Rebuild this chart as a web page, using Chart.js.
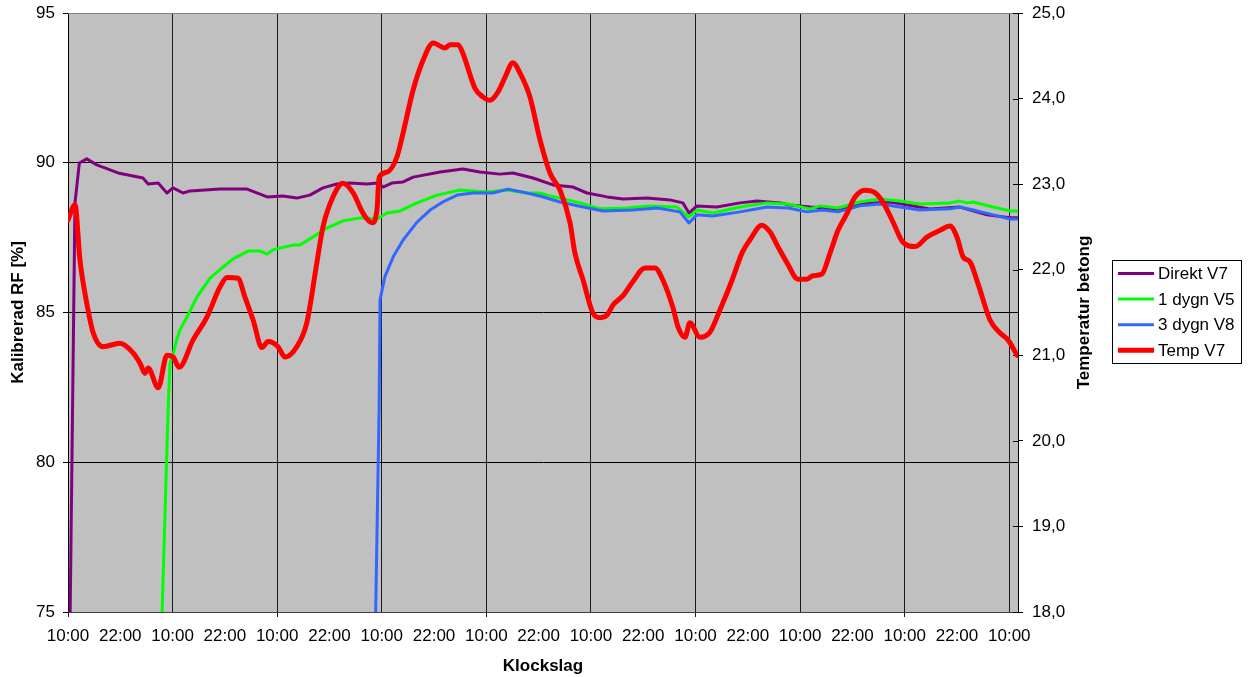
<!DOCTYPE html>
<html>
<head>
<meta charset="utf-8">
<script src="https://cdn.jsdelivr.net/npm/chart.js@4.4.1/dist/chart.umd.min.js"></script>
<style>
  html, body { margin: 0; padding: 0; background: #ffffff; }
  #wrap { width: 1251px; height: 677px; }
</style>
</head>
<body>
<div id="wrap"><canvas id="c" width="1251" height="677"></canvas></div>
<script>
// Time axis: hours since the first 10:00 reading, labelled every 12 h
const tickHours = [0, 12, 24, 36, 48, 60, 72, 84, 96, 108, 120, 132, 144, 156, 168, 180, 192, 204, 216];
const tickLabels = ['10:00', '22:00', '10:00', '22:00', '10:00', '22:00', '10:00', '22:00', '10:00', '22:00',
                    '10:00', '22:00', '10:00', '22:00', '10:00', '22:00', '10:00', '22:00', '10:00'];

// Direkt V7 – calibrated RF [%]
const direktHours = [0.5, 1.6, 2.6, 4.3, 6.6, 11.5, 17.2, 18.4, 20.7, 22.7, 24.1, 26.4, 28.0, 34.9, 41.1, 45.7,
  49.3, 52.5, 55.5, 58.5, 61.7, 64.7, 68.6, 71.1, 72.3, 74.3, 76.9, 79.2, 85.4, 90.6, 94.5, 99.1, 102.1, 106.7,
  111.3, 115.9, 119.1, 123.7, 127.4, 132.9, 138.1, 141.1, 142.5, 144.3, 148.9, 154.2, 158.1, 163.4, 165.7,
  170.3, 173.2, 176.7, 181.7, 188.6, 197.8, 204.7, 210.9, 216.2, 217.8];
const direktRF = [75.0, 88.66, 89.99, 90.13, 89.93, 89.66, 89.49, 89.29, 89.32, 88.99, 89.16, 88.99, 89.06, 89.12,
  89.12, 88.86, 88.89, 88.82, 88.92, 89.16, 89.29, 89.32, 89.29, 89.32, 89.19, 89.32, 89.36, 89.52, 89.69, 89.79,
  89.69, 89.62, 89.66, 89.49, 89.26, 89.19, 88.99, 88.86, 88.79, 88.82, 88.76, 88.66, 88.32, 88.56, 88.52, 88.66,
  88.72, 88.66, 88.59, 88.52, 88.50, 88.45, 88.62, 88.69, 88.46, 88.52, 88.26, 88.16, 88.16];

// 1 dygn V5 – calibrated RF [%]
const dygn1Hours = [21.6, 22.6, 23.0, 23.4, 24.2, 24.9, 25.7, 27.3, 29.6, 32.6, 35.6, 37.9, 41.3, 44.1, 45.7, 47.0,
  51.6, 53.2, 56.2, 59.4, 63.1, 67.0, 70.9, 73.2, 76.2, 80.1, 84.7, 90.0, 96.1, 100.7, 105.3, 108.3, 109.9, 112.9,
  117.5, 122.1, 128.3, 133.5, 139.7, 142.5, 144.3, 148.0, 154.2, 160.4, 165.2, 170.3, 172.6, 176.7, 181.7, 186.3,
  190.9, 195.5, 202.4, 204.7, 206.3, 207.7, 212.3, 216.2, 217.8];
const dygn1RF = [75.0, 79.97, 81.85, 83.3, 83.65, 84.08, 84.42, 84.85, 85.52, 86.15, 86.52, 86.79, 87.05, 87.05,
  86.95, 87.09, 87.25, 87.25, 87.52, 87.82, 88.06, 88.16, 88.12, 88.32, 88.39, 88.66, 88.92, 89.09, 89.02, 89.09,
  88.99, 88.99, 88.92, 88.82, 88.66, 88.46, 88.49, 88.56, 88.52, 88.19, 88.42, 88.32, 88.52, 88.66, 88.62, 88.46,
  88.56, 88.49, 88.69, 88.79, 88.72, 88.62, 88.66, 88.72, 88.66, 88.69, 88.52, 88.39, 88.39];

// 3 dygn V8 – calibrated RF [%]
const dygn3Hours = [70.6, 71.4, 71.6, 72.7, 74.6, 76.9, 80.1, 83.1, 86.0, 89.3, 92.9, 97.5, 101.0, 105.3, 108.3,
  112.9, 118.2, 122.8, 129.6, 135.2, 140.4, 142.5, 144.3, 148.0, 154.2, 160.4, 165.2, 169.6, 173.2, 176.7, 181.7,
  186.3, 190.9, 195.5, 202.4, 204.7, 207.7, 212.3, 216.2, 217.8];
const dygn3RF = [75.0, 81.85, 85.42, 86.19, 86.85, 87.42, 88.02, 88.42, 88.69, 88.92, 88.99, 88.99, 89.12, 88.99,
  88.89, 88.69, 88.52, 88.39, 88.42, 88.49, 88.36, 87.99, 88.26, 88.22, 88.36, 88.52, 88.49, 88.36, 88.42, 88.36,
  88.56, 88.62, 88.52, 88.42, 88.46, 88.52, 88.42, 88.26, 88.12, 88.12];

// Temp V7 – concrete temperature [°C]
const tempHours = [0.0, 1.6, 2.75, 4.3, 5.8, 8.0, 11.9, 14.9, 16.5, 17.7, 18.4, 20.7, 22.7, 24.1, 25.5, 28.7, 31.9,
  34.9, 36.5, 39.0, 40.6, 42.5, 44.5, 45.9, 48.2, 49.8, 52.5, 54.8, 57.1, 58.5, 60.8, 63.1, 65.4, 67.7, 69.8, 70.9,
  71.4, 73.2, 75.5, 76.9, 79.2, 81.5, 83.8, 86.5, 87.7, 89.5, 90.6, 93.4, 95.2, 96.8, 98.7, 100.3, 102.1, 103.7,
  106.0, 108.3, 110.6, 112.9, 115.2, 116.3, 118.2, 120.5, 122.1, 123.7, 125.1, 127.4, 129.6, 132.4, 134.7, 136.5,
  138.8, 140.0, 141.6, 142.7, 145.0, 147.3, 149.6, 152.4, 154.7, 156.5, 159.2, 161.1, 162.9, 165.0, 167.5, 169.6,
  170.9, 173.0, 174.9, 176.7, 178.8, 180.6, 182.9, 185.2, 187.0, 189.3, 191.6, 194.4, 197.1, 200.1, 202.4, 204.0,
  205.4, 207.0, 208.8, 211.6, 213.9, 215.7, 217.8];
const tempC = [22.58, 22.76, 22.11, 21.61, 21.26, 21.10, 21.14, 21.03, 20.91, 20.79, 20.85, 20.62, 21.00, 20.98,
  20.86, 21.18, 21.45, 21.80, 21.91, 21.90, 21.68, 21.41, 21.09, 21.16, 21.10, 20.98, 21.10, 21.38, 22.08, 22.50,
  22.85, 23.01, 22.90, 22.66, 22.55, 22.70, 23.08, 23.14, 23.32, 23.60, 24.10, 24.45, 24.65, 24.59, 24.63, 24.63,
  24.53, 24.12, 24.02, 23.98, 24.08, 24.25, 24.42, 24.30, 24.02, 23.52, 23.13, 22.93, 22.55, 22.20, 21.88, 21.49,
  21.44, 21.47, 21.59, 21.70, 21.86, 22.02, 22.02, 21.88, 21.56, 21.33, 21.21, 21.38, 21.21, 21.27, 21.53, 21.88,
  22.20, 22.35, 22.52, 22.44, 22.27, 22.08, 21.89, 21.89, 21.93, 21.95, 22.20, 22.46, 22.66, 22.85, 22.93, 22.90,
  22.79, 22.56, 22.32, 22.27, 22.38, 22.46, 22.51, 22.38, 22.15, 22.09, 21.84, 21.41, 21.26, 21.18, 21.00];

const pts = (xs, ys) => xs.map((x, i) => ({ x: x, y: ys[i] }));

const FONT = '"Liberation Sans", Arial, Helvetica, sans-serif';
Chart.defaults.font.family = FONT;
Chart.defaults.font.size = 17;
Chart.defaults.color = '#000000';

// Grey plot area and its top edge
const plotBackground = {
  id: 'plotBackground',
  beforeDraw(chart) {
    const { ctx, chartArea: a } = chart;
    ctx.save();
    ctx.fillStyle = '#C0C0C0';
    ctx.fillRect(a.left, a.top, a.right - a.left, a.bottom - a.top);
    ctx.restore();
  },
  beforeDatasetsDraw(chart) {
    const { ctx, chartArea: a } = chart;
    const y2 = chart.scales.y2;
    ctx.save();
    ctx.strokeStyle = '#808080';
    ctx.lineWidth = 1;
    ctx.beginPath();
    ctx.moveTo(a.left, a.top + 0.5);
    ctx.lineTo(a.right, a.top + 0.5);
    ctx.stroke();
    // inner half of the right-axis tick marks
    ctx.strokeStyle = '#000000';
    y2.ticks.forEach(t => {
      const py = Math.round(y2.getPixelForValue(t.value)) + 0.5;
      ctx.beginPath();
      ctx.moveTo(a.right - 5, py);
      ctx.lineTo(a.right, py);
      ctx.stroke();
    });
    ctx.restore();
  }
};

// Right-hand axis title (reads bottom-to-top) and the boxed legend
const sideDecor = {
  id: 'sideDecor',
  afterDraw(chart) {
    const { ctx, chartArea: a } = chart;
    ctx.save();
    ctx.font = 'bold 17px ' + FONT;
    ctx.fillStyle = '#000000';
    ctx.textAlign = 'center';
    ctx.textBaseline = 'middle';
    ctx.translate(1084, (a.top + a.bottom) / 2);
    ctx.rotate(-Math.PI / 2);
    ctx.fillText('Temperatur betong', 0, 0);
    ctx.restore();

    const box = { x: 1112.5, y: 260.5, w: 129, h: 103 };
    ctx.save();
    ctx.fillStyle = '#ffffff';
    ctx.fillRect(box.x, box.y, box.w, box.h);
    ctx.strokeStyle = '#000000';
    ctx.lineWidth = 1;
    ctx.strokeRect(box.x, box.y, box.w, box.h);
    ctx.font = '17px ' + FONT;
    ctx.textAlign = 'left';
    ctx.textBaseline = 'middle';
    chart.data.datasets.forEach((ds, i) => {
      const cy = 273.5 + i * 25.6;
      ctx.strokeStyle = ds.borderColor;
      ctx.lineWidth = ds.borderWidth;
      ctx.lineCap = 'butt';
      ctx.beginPath();
      ctx.moveTo(1118, cy);
      ctx.lineTo(1154, cy);
      ctx.stroke();
      ctx.fillStyle = '#000000';
      ctx.fillText(ds.label, 1158, cy + 1);
    });
    ctx.restore();
  }
};

// Fixed axis sizes so the plot area sits where the tick labels expect it
const fixVertical = w => s => { s.width = w; s.paddingTop = 0; s.paddingBottom = 0; };

new Chart(document.getElementById('c'), {
  type: 'line',
  data: {
    datasets: [
      { label: 'Direkt V7', data: pts(direktHours, direktRF), yAxisID: 'y',
        borderColor: '#800080', borderWidth: 3, order: 4 },
      { label: '1 dygn V5', data: pts(dygn1Hours, dygn1RF), yAxisID: 'y',
        borderColor: '#00FF00', borderWidth: 3, order: 3 },
      { label: '3 dygn V8', data: pts(dygn3Hours, dygn3RF), yAxisID: 'y',
        borderColor: '#3366FF', borderWidth: 3, order: 2 },
      { label: 'Temp V7', data: pts(tempHours, tempC), yAxisID: 'y2',
        borderColor: '#FF0000', borderWidth: 5, order: 1, cubicInterpolationMode: 'monotone' }
    ]
  },
  options: {
    responsive: false,
    animation: false,
    devicePixelRatio: 1,
    layout: { padding: { left: 0, right: 157, top: 13, bottom: 0 } },
    elements: {
      point: { radius: 0, hoverRadius: 0 },
      line: { fill: false, borderJoinStyle: 'round', borderCapStyle: 'round' }
    },
    plugins: { legend: { display: false }, tooltip: { enabled: false } },
    scales: {
      x: {
        type: 'linear',
        min: 0,
        max: 218,
        afterBuildTicks: s => { s.ticks = tickHours.map(v => ({ value: v })); },
        afterFit: s => { s.height = 65; s.paddingLeft = 0; s.paddingRight = 0; },
        ticks: {
          autoSkip: false,
          maxRotation: 0,
          padding: 9,
          callback: v => tickLabels[tickHours.indexOf(v)]
        },
        grid: {
          color: c => (c.tick && c.tick.value % 24 === 0) ? '#1a1a1a' : 'rgba(0,0,0,0)',
          tickColor: c => (c.tick && c.tick.value % 48 === 0) ? '#1a1a1a' : 'rgba(0,0,0,0)',
          tickLength: 5,
          lineWidth: 1
        },
        border: { display: true, color: '#404040', width: 1 },
        title: { display: true, text: 'Klockslag', font: { weight: 'bold', size: 17 }, padding: { top: 0, bottom: 0 } }
      },
      y: {
        position: 'left',
        min: 75,
        max: 95,
        afterFit: fixVertical(68),
        ticks: { stepSize: 5, padding: 8, callback: v => String(v) },
        grid: {
          color: c => (c.tick && c.tick.value === 95) ? '#808080' : '#000000',
          tickColor: '#000000',
          tickLength: 5,
          lineWidth: 1
        },
        border: { display: true, color: '#000000', width: 1 },
        title: { display: true, text: 'Kalibrerad RF [%]', font: { weight: 'bold', size: 17 }, padding: { top: 8, bottom: 0 } }
      },
      y2: {
        position: 'right',
        min: 18,
        max: 25,
        afterFit: fixVertical(76),
        ticks: { stepSize: 1, padding: 9, callback: v => v.toFixed(1).replace('.', ',') },
        grid: { drawOnChartArea: false, tickColor: '#000000', tickLength: 5 },
        border: { display: true, color: '#000000', width: 1 },
        title: { display: false }
      }
    }
  },
  plugins: [plotBackground, sideDecor]
});
</script>
</body>
</html>
